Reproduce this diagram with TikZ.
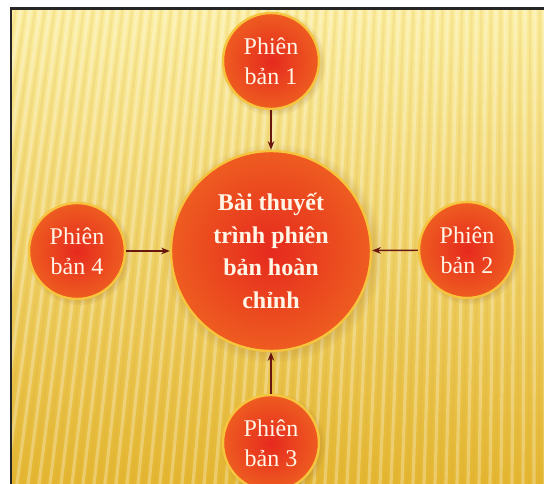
\documentclass[tikz,border=0pt]{standalone}
\usepackage{fontspec}
\setmainfont{Liberation Serif}
\usetikzlibrary{arrows.meta,shadows}
\definecolor{mygold}{RGB}{247,196,62}
\definecolor{myred}{RGB}{230,42,30}
\definecolor{myorange}{RGB}{238,92,32}
\definecolor{mybrown}{RGB}{105,22,14}
\definecolor{mypale}{RGB}{251,238,160}
\definecolor{mydeep}{RGB}{228,182,48}
\definecolor{mycream}{RGB}{255,246,232}

\begin{document}
\begin{tikzpicture}[x=0.75pt,y=-0.75pt,
  vbox/.style={circle,draw=mygold,line width=1.8pt,inner sep=0pt,minimum size=72pt,
               inner color=myred,outer color=myorange,text=mycream,align=center,
               circular drop shadow={opacity=0.25,fill=brown!70!black},
               font=\fontsize{18}{22.5}\selectfont},
  mainbox/.style={vbox,minimum size=150pt,font=\fontsize{18}{24.5}\selectfont\bfseries},
  arrow/.style={-{Stealth[length=6.5pt,width=5pt]},line width=1.1pt,mybrown}]
\useasboundingbox (0,0) rectangle (544,484);
\fill[white] (0,0) rectangle (544,484);
% background
\shade[top color=mypale,bottom color=mydeep] (11,9) rectangle (544,484);
\begin{scope}
  \clip (11,9) rectangle (544,484);
  \foreach \i in {0,...,60}{
    \draw[white,opacity=0.28,line width=2.4pt] ({11+9.7*\i},9) -- ({-60+11*\i},484);
    \draw[mydeep!70!brown,opacity=0.14,line width=1.8pt] ({15.8+9.7*\i},9) -- ({-54.5+11*\i},484);
  }
\end{scope}
\draw[black!85,line width=1.6pt] (11,484) -- (11,8.5);
\draw[black!85,line width=2.2pt] (10,8.5) -- (544,8.5);
% circles
\node[mainbox] (main) at (271,251) {Bài thuyết\\trình phiên\\bản hoàn\\chỉnh};
\node[vbox] (v1) at (271,61)  {Phiên\\bản 1};
\node[vbox] (v2) at (467,250) {Phiên\\bản 2};
\node[vbox] (v3) at (271,443) {Phiên\\bản 3};
\node[vbox] (v4) at (77,251)  {Phiên\\bản 4};
\draw[arrow] (v1) -- (main);
\draw[arrow] (v2) -- (main);
\draw[arrow] (v3) -- (main);
\draw[arrow] (v4) -- (main);
\end{tikzpicture}
\end{document}
